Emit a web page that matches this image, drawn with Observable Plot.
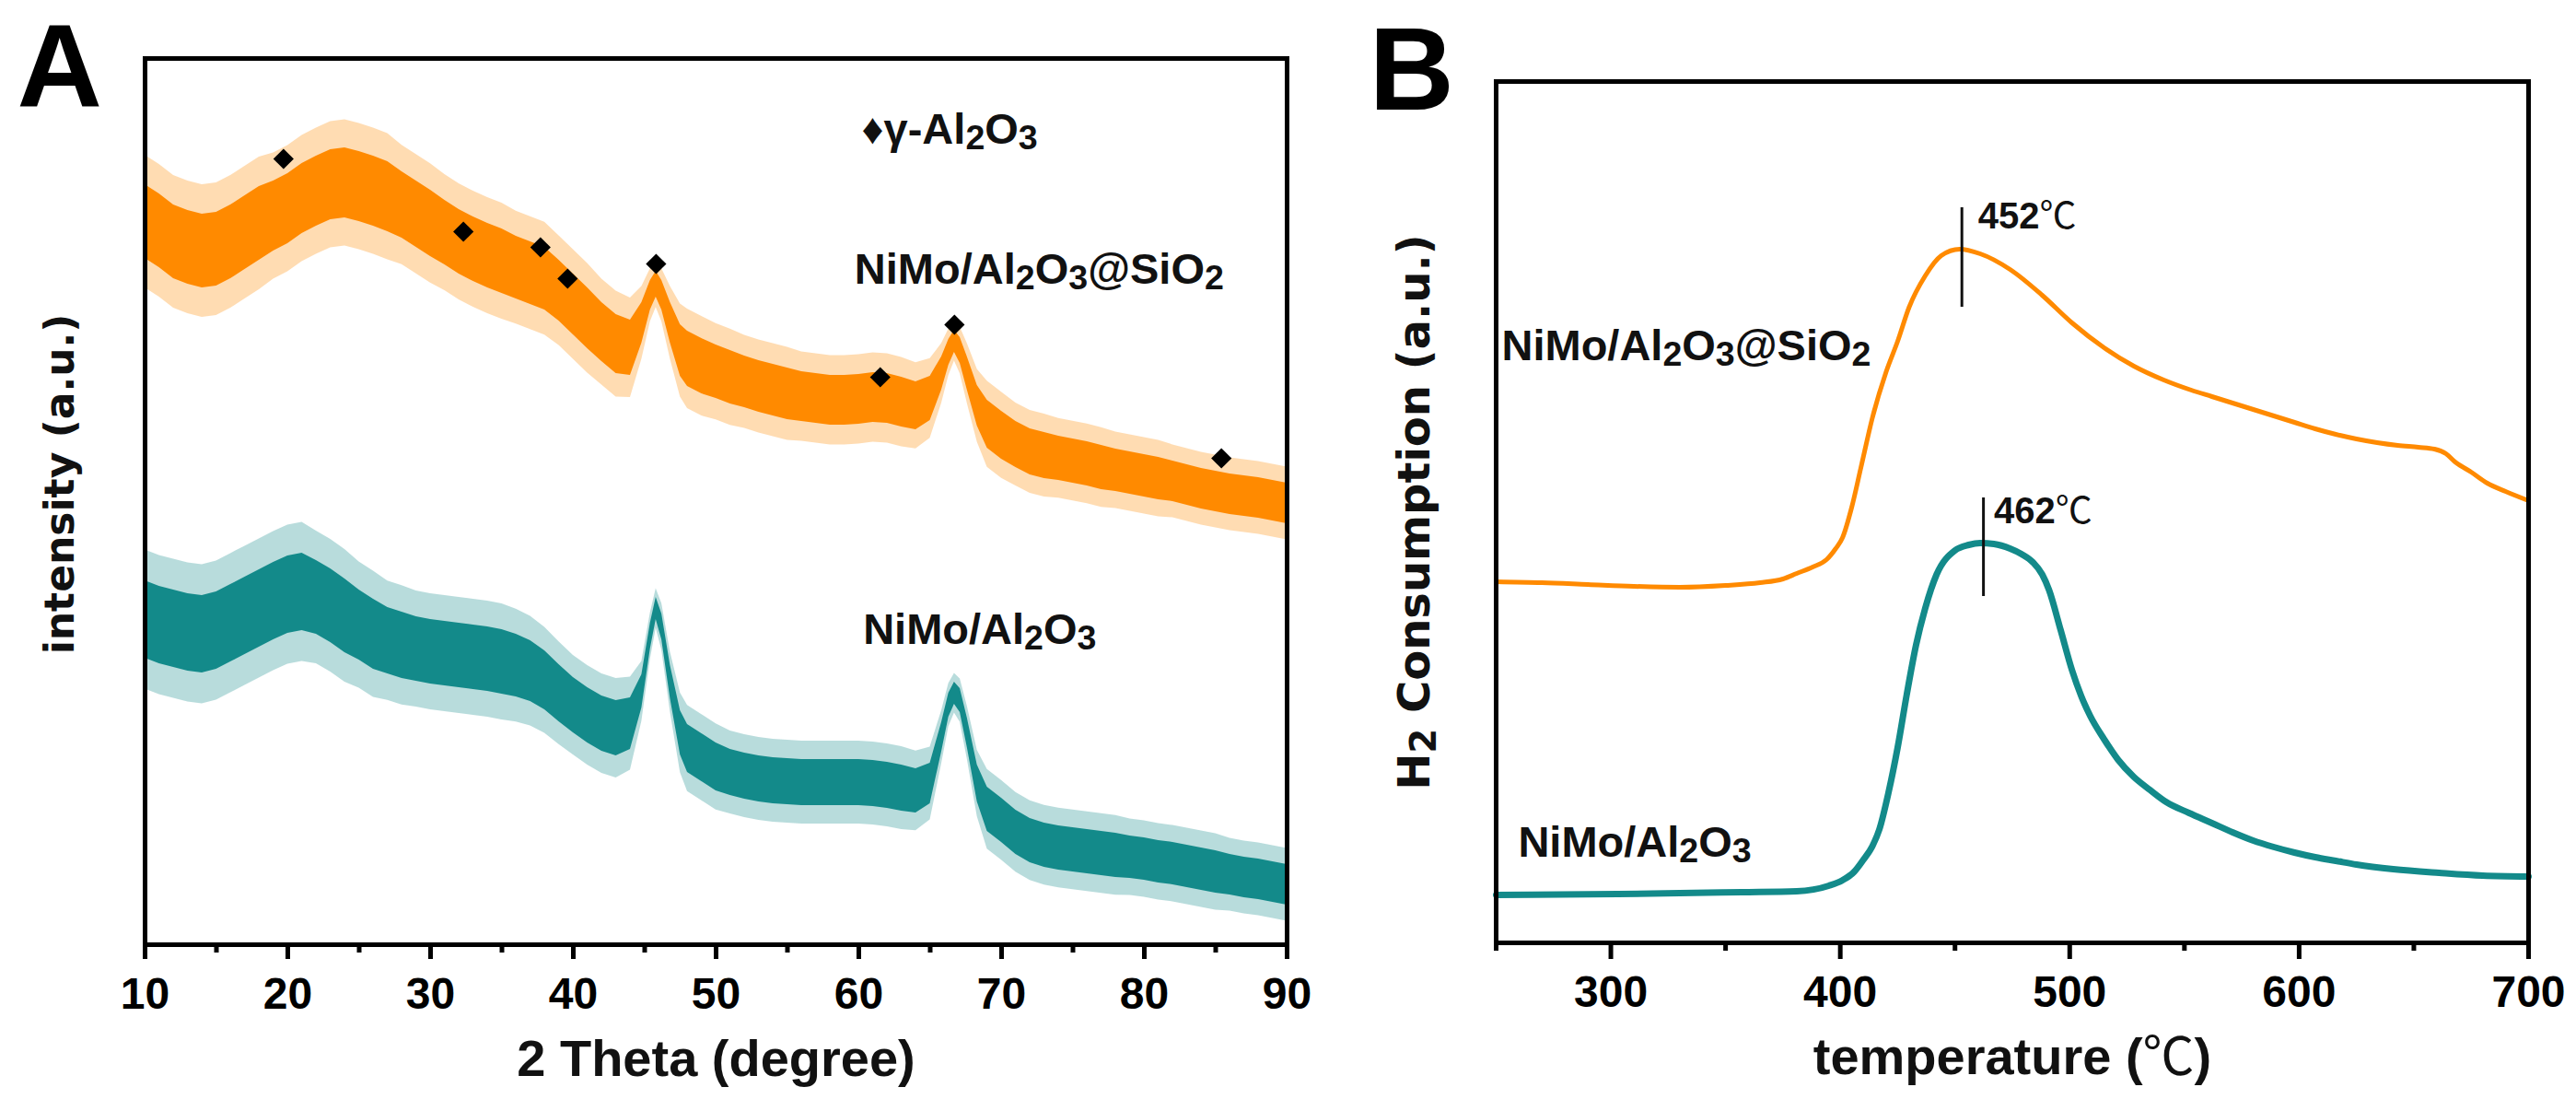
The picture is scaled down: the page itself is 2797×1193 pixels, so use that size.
<!DOCTYPE html>
<html><head><meta charset="utf-8">
<script src="https://cdn.jsdelivr.net/npm/d3@7"></script>
<script src="https://cdn.jsdelivr.net/npm/@observablehq/plot@0.6"></script>
<style>
html,body{margin:0;padding:0;background:#fff;}
#wrap{position:relative;width:2797px;height:1193px;overflow:hidden;background:#fff;}
#a{position:absolute;left:0;top:0;z-index:2;}
#b{position:absolute;left:1400px;top:0;z-index:1;}
</style></head>
<body><div id="wrap"><div id="a"></div><div id="b"></div></div>
<script>
// ---------- Panel A: XRD ----------
const xrdTheta = [10,11,12,13,14,15,16,17,18,19,20,21,22,23,24,25,26,27,28,29,30,31,32,33,34,35,36,37,38,39,40,41,42,43,44,
  44.8,45.4,45.8,46.2,46.8,47.5,
  48,49,50,51,52,53,54,55,56,57,58,59,60,61,62,63,64,65,
  65.8,66.3,66.7,67.1,67.6,68.3,
  69,70,71,72,73,74,75,76,77,78,79,80,81,82,83,84,85,86,87,88,89,90];
const xrdOrange = [785,775,763,757,753,755,763,773,783,791,799,810,818,825,827,823,818,812,803,793,783,773,763,755,748,742,735,729,723,710,695,680,665,652,648,
  675,705,717,705,675,645,
  636,628,622,616,611,606,602,598,595,593,591,591,592,594,593,589,585,593,
  620,643,655,645,620,585,
  565,553,543,535,531,528,525,522,518,515,512,509,506,503,499,495,492,489,487,485,482,479];
const xrdOrangeNoise = [40,40,40,40,40,40,40,40,40,38,38,38,38,38,38,38,38,38,36,36,36,35,35,35,35,35,34,34,34,33,33,33,32,32,30,
  22,16,14,16,22,28,
  30,30,29,29,28,28,28,28,27,27,27,27,27,27,27,27,26,24,
  18,14,12,14,18,22,
  26,26,25,25,25,24,24,24,24,23,23,23,23,22,22,22,22,22,22,22,22,22];
const xrdTeal = [353,347,343,339,337,341,349,357,365,373,380,383,377,368,357,347,337,330,325,321,318,316,314,312,310,307,303,297,287,273,260,249,240,235,240,
  275,335,365,345,285,230,
  213,203,193,187,183,180,178,177,176,176,176,176,176,175,173,170,167,175,
  225,260,273,265,230,175,
  147,135,122,113,108,105,103,101,99,97,95,93,90,88,85,82,79,76,73,71,68,65];
const xrdTealNoise = [42,42,42,42,42,42,42,42,42,42,42,42,40,40,40,38,38,36,36,35,35,35,35,35,35,35,34,33,32,31,30,30,30,30,28,
  18,14,12,14,18,24,
  26,26,26,25,25,25,25,25,25,25,25,25,25,25,25,25,24,22,
  16,13,12,13,16,20,
  24,24,24,24,24,24,24,24,24,24,23,23,23,23,23,23,23,22,22,22,22,22];
const markerTheta = [19.7,32.3,37.7,39.6,45.8,61.5,66.7,85.4];
const markerIntensity = [853,774,757,723,739,616,673,528];
const xrdMajorTicks = [10,20,30,40,50,60,70,80,90];
const xrdMinorTicks = [15,25,35,45,55,65,75,85];
const xrdLabels = ["♦γ-Al₂O₃","NiMo/Al₂O₃@SiO₂","NiMo/Al₂O₃"];
const xrdLabelTheta = [60.2,59.7,60.3];
const xrdLabelIntensity = [870,718,327];

// ---------- Panel B: H2-TPR ----------
const tprTempOrange = [250,270,290,310,330,350,365,375,381,388,394,398,401,405,409,414,420,425,430,437,444,452,461,474,488,501,515,528,541,553,562,571,580,589,598,607,616,625,634,643,652,659,664,668,675,682,690,700];
const tprOrange =     [392,391,389,387,386,388,391,395,401,408,416,428,440,473,516,570,620,653,690,724,746,753,748,731,703,673,646,626,611,600,593,586,579,572,565,558,552,547,543,540,538,536,531,522,511,499,490,480];
const tprTempTeal = [250,303,357,381,395,401,406,410,414,417,421,425,429,433,437,442,450,456,461,467,474,479,484,488,491,496,501,505,509,515,521,528,535,542,552,562,571,580,589,598,607,616,625,641,661,680,700];
const tprTeal =     [52,53,55,56,62,68,77,90,105,123,163,212,270,323,363,400,426,432,434,433,428,422,413,400,383,340,296,268,246,221,199,180,166,153,141,130,120,111,104,98,93,89,85,80,76,73,72];
const tprMajorTicks = [300,400,500,600,700];
const tprMinorTicks = [250,350,450,550,650];
const peakTemps = [453,462.4];
const peakLow = [690,376];
const peakHigh = [798,483];
const peakLabels = ["452℃","462℃"];
const peakLabelTemp = [460,467];
const peakLabelValue = [776,456];
const tprLabels = ["NiMo/Al₂O₃@SiO₂","NiMo/Al₂O₃"];
const tprLabelTemp = [252.4,259.6];
const tprLabelValue = [633,94];

const ORANGE = "#ff8a00", TEAL = "#138a8a";
const SANS = "'Liberation Sans', Arial, Helvetica, sans-serif";
const WIDE = "'DejaVu Sans', Verdana, sans-serif";

const xrdRows = xrdTheta.map((t,i)=>({t, o: xrdOrange[i], on: xrdOrangeNoise[i], c: xrdTeal[i], cn: xrdTealNoise[i]}));
const markers = markerTheta.map((t,i)=>({t, v: markerIntensity[i]}));
const xrdText = xrdLabels.map((s,i)=>({s, t: xrdLabelTheta[i], v: xrdLabelIntensity[i]}));

const A = Plot.plot({
  width: 1400, height: 1193,
  marginLeft: 157, marginRight: 3, marginTop: 63, marginBottom: 168,
  x: {domain: [10, 90], label: null},
  y: {domain: [0, 962], label: null, axis: null},
  style: {background: "none", fontFamily: SANS, overflow: "visible"},
  marks: [
    Plot.areaY(xrdRows, {x: "t", y1: d => d.o - 1.8*d.on, y2: d => d.o + 1.8*d.on, fill: ORANGE, fillOpacity: 0.3}),
    Plot.areaY(xrdRows, {x: "t", y1: d => d.o - d.on, y2: d => d.o + d.on, fill: ORANGE}),
    Plot.areaY(xrdRows, {x: "t", y1: d => d.c - 1.8*d.cn, y2: d => d.c + 1.8*d.cn, fill: TEAL, fillOpacity: 0.3}),
    Plot.areaY(xrdRows, {x: "t", y1: d => d.c - d.cn, y2: d => d.c + d.cn, fill: TEAL}),
    Plot.dot(markers, {x: "t", y: "v", symbol: "diamond2", r: 10, fill: "black", stroke: "none"}),
    Plot.frame({stroke: "black", strokeWidth: 5}),
    Plot.axisX(xrdMajorTicks, {tickSize: 16, tickPadding: 19, strokeWidth: 5, fontSize: 48, fontWeight: "bold", fill: "black", label: null, tickFormat: d => String(d)}),
    Plot.axisX(xrdMinorTicks, {tickSize: 9, strokeWidth: 5, label: null, tickFormat: () => ""}),
    Plot.text(xrdText, {x: "t", y: "v", text: "s", textAnchor: "start", lineAnchor: "bottom", fontSize: 47, fontWeight: "bold", fill: "#111"}),
    Plot.text(["2 Theta (degree)"], {text: d => d, frameAnchor: "bottom", dy: 142, textAnchor: "middle", lineAnchor: "bottom", fontSize: 56, fontWeight: "bold", fill: "#111"}),
    Plot.text(["intensity (a.u.)"], {text: d => d, frameAnchor: "left", dx: -92, dy: -19, rotate: -90, textAnchor: "middle", lineAnchor: "middle", fontFamily: WIDE, fontSize: 44, fontWeight: "bold", fill: "#111"}),
    Plot.text(["A"], {text: d => d, frameAnchor: "top-left", dx: -139, dy: 52, textAnchor: "start", lineAnchor: "bottom", fontSize: 128, fontWeight: "bold", fill: "black"})
  ]
});

const orangeRows = tprTempOrange.map((t,i)=>({t, v: tprOrange[i]}));
const tealRows = tprTempTeal.map((t,i)=>({t, v: tprTeal[i]}));
const peakRows = peakTemps.map((t,i)=>({t, lo: peakLow[i], hi: peakHigh[i], s: peakLabels[i], lt: peakLabelTemp[i], lv: peakLabelValue[i]}));
const tprText = tprLabels.map((s,i)=>({s, t: tprLabelTemp[i], v: tprLabelValue[i]}));

const B = Plot.plot({
  width: 1397, height: 1193,
  marginLeft: 224, marginRight: 52, marginTop: 88, marginBottom: 170,
  x: {domain: [250, 700], label: null},
  y: {domain: [0, 935], label: null, axis: null},
  style: {background: "none", fontFamily: SANS, overflow: "visible"},
  marks: [
    Plot.line(orangeRows, {x: "t", y: "v", stroke: ORANGE, strokeWidth: 5, curve: "monotone-x"}),
    Plot.line(tealRows, {x: "t", y: "v", stroke: TEAL, strokeWidth: 7, curve: "monotone-x"}),
    Plot.ruleX(peakRows, {x: "t", y1: "lo", y2: "hi", stroke: "#111", strokeWidth: 3}),
    Plot.text(peakRows, {x: "lt", y: "lv", text: "s", textAnchor: "start", lineAnchor: "bottom", fontSize: 40, fontWeight: "bold", fill: "#111"}),
    Plot.frame({stroke: "black", strokeWidth: 5}),
    Plot.axisX(tprMajorTicks, {tickSize: 18, tickPadding: 17, strokeWidth: 5, fontSize: 48, fontWeight: "bold", fill: "black", label: null, tickFormat: d => String(d)}),
    Plot.axisX(tprMinorTicks, {tickSize: 9, strokeWidth: 5, label: null, tickFormat: () => ""}),
    Plot.text(tprText, {x: "t", y: "v", text: "s", textAnchor: "start", lineAnchor: "bottom", fontSize: 47, fontWeight: "bold", fill: "#111"}),
    Plot.text(["temperature (℃)"], {text: d => d, frameAnchor: "bottom", dy: 142, textAnchor: "middle", lineAnchor: "bottom", fontSize: 56, fontWeight: "bold", fill: "#111"}),
    Plot.text(["H₂ Consumption (a.u.)"], {text: d => d, frameAnchor: "left", dx: -88, rotate: -90, textAnchor: "middle", lineAnchor: "middle", fontFamily: WIDE, fontSize: 48, fontWeight: "bold", fill: "#111"}),
    Plot.text(["B"], {text: d => d, frameAnchor: "top-left", dx: -138, dy: 30, textAnchor: "start", lineAnchor: "bottom", fontSize: 128, fontWeight: "bold", fill: "black"})
  ]
});

// Render subscripts as lowered digits and ℃ in normal weight (text stays real text)
const NS = "http://www.w3.org/2000/svg";
function richify(svg) {
  svg.querySelectorAll("text").forEach(t => {
    const els = t.querySelectorAll("tspan").length ? [...t.querySelectorAll("tspan")] : [t];
    els.forEach(el => {
      const s = el.textContent;
      if (!/[₂₃℃]/.test(s)) return;
      el.textContent = "";
      let buf = "";
      const flush = () => { if (buf) { el.appendChild(document.createTextNode(buf)); buf = ""; } };
      for (const ch of s) {
        if (ch === "₂" || ch === "₃") {
          flush();
          const ts = document.createElementNS(NS, "tspan");
          ts.setAttribute("baseline-shift", "-0.17em");
          ts.setAttribute("font-size", "80%");
          ts.textContent = ch === "₂" ? "2" : "3";
          el.appendChild(ts);
        } else if (ch === "℃") {
          flush();
          const ts = document.createElementNS(NS, "tspan");
          ts.setAttribute("font-weight", "normal");
          ts.setAttribute("font-family", "'Noto Sans CJK SC', sans-serif");
          ts.textContent = ch;
          el.appendChild(ts);
        } else buf += ch;
      }
      flush();
    });
  });
}
richify(A); richify(B);
document.getElementById("a").appendChild(A);
document.getElementById("b").appendChild(B);
</script>
</body></html>
